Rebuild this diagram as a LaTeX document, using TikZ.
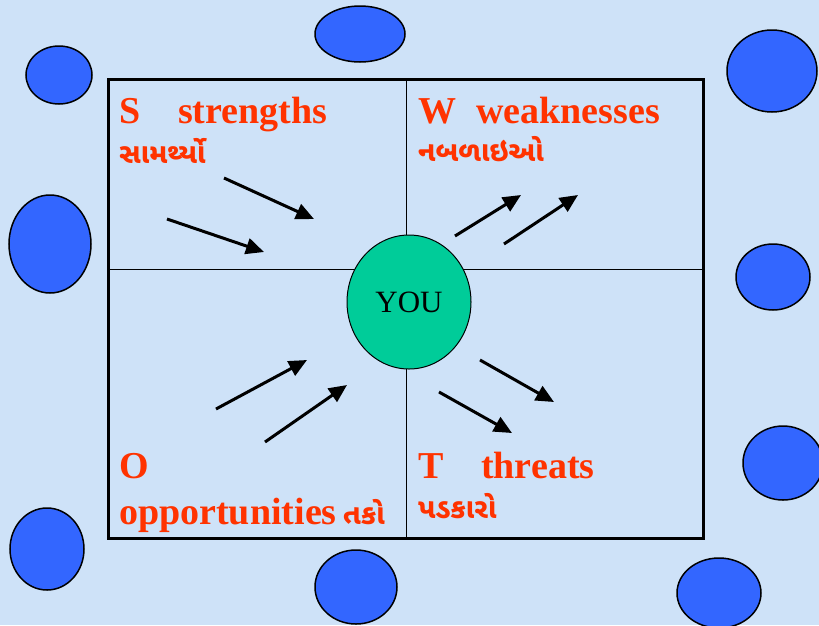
\documentclass[tikz,border=0pt]{standalone}
\usepackage{fontspec}
\setmainfont{Liberation Serif}
\newfontfamily\gujfont[Script=Gujarati]{Noto Sans Gujarati UI}
\usetikzlibrary{arrows.meta,shapes.geometric}

\definecolor{bgblue}{RGB}{206,226,248}
\definecolor{spotblue}{RGB}{51,102,255}
\definecolor{yougreen}{RGB}{0,204,153}
\definecolor{swotred}{RGB}{255,51,0}

\tikzset{
  spot/.style={draw=black, line width=1.5pt, fill=spotblue},
  bigword/.style={anchor=base west, inner sep=0pt, text=swotred, font=\fontsize{38}{40}\selectfont\bfseries},
  gujword/.style={anchor=base west, inner sep=0pt, text=swotred, font=\gujfont\fontsize{28}{30}\selectfont\bfseries},
  push/.style={line width=3pt, -{Triangle[length=18pt,width=16pt]}}
}

\begin{document}
\begin{tikzpicture}[x=1pt,y=-1pt]
% Background
\fill[bgblue] (0,0) rectangle (819,625);
\useasboundingbox (0,0) rectangle (819,625);

% Blue spots round the grid
\foreach \cx/\cy/\rx/\ry in {59/75/33/29, 360/34/45/28, 772/71/45/41,
    50/244/41/49, 773/277/37/33, 783/463/40/37,
    47/549/37/41, 356/587/41/37, 719/593/42/35}
  \draw[spot] (\cx,\cy) ellipse [x radius=\rx, y radius=\ry];

% Grid
\draw[line width=3pt] (108,79) rectangle (703,538);
\draw[line width=1pt] (406,79) -- (406,538);
\draw[line width=1pt] (108,269) -- (703,269);

% Centre
\node[draw, ellipse, fill=yougreen, line width=1pt, minimum width=124pt, minimum height=134pt, inner sep=0pt, font=\fontsize{31}{33}\selectfont] (you) at (409,302) {YOU};

% Quadrant labels
\node[bigword] (sLetter) at (119,123) {S};
\node[bigword] (sWord) at (178,123) {strengths};
\node[gujword] (sGuj) at (119,163) {સામર્થ્યો};

\node[bigword] (wLetter) at (418,123) {W};
\node[bigword] (wWord) at (476,123) {weaknesses};
\node[gujword] (wGuj) at (418,161) {નબળાઇઓ};

\node[bigword] (oLetter) at (119,478) {O};
\node[bigword] (oWord) at (119,524) {opportunities};
\node[gujword, xshift=6pt] (oGuj) at (oWord.base east) {તકો};

\node[bigword] (tLetter) at (418,478) {T};
\node[bigword] (tWord) at (481,478) {threats};
\node[gujword] (tGuj) at (418,518) {પડકારો};

% Arrow ends
\coordinate (s1a) at (224,178); \coordinate (s1b) at (314,219);
\coordinate (s2a) at (167,219); \coordinate (s2b) at (264,252);
\coordinate (w1a) at (455,236); \coordinate (w1b) at (521,195);
\coordinate (w2a) at (504,244); \coordinate (w2b) at (578,195);
\coordinate (o1a) at (216,409); \coordinate (o1b) at (307,360);
\coordinate (o2a) at (265,442); \coordinate (o2b) at (347,385);
\coordinate (t1a) at (480,360); \coordinate (t1b) at (554,402);
\coordinate (t2a) at (439,392); \coordinate (t2b) at (512,433);

% Arrows
\foreach \q in {s1,s2,w1,w2,o1,o2,t1,t2}
  \draw[push] (\q a) -- (\q b);

\end{tikzpicture}
\end{document}
